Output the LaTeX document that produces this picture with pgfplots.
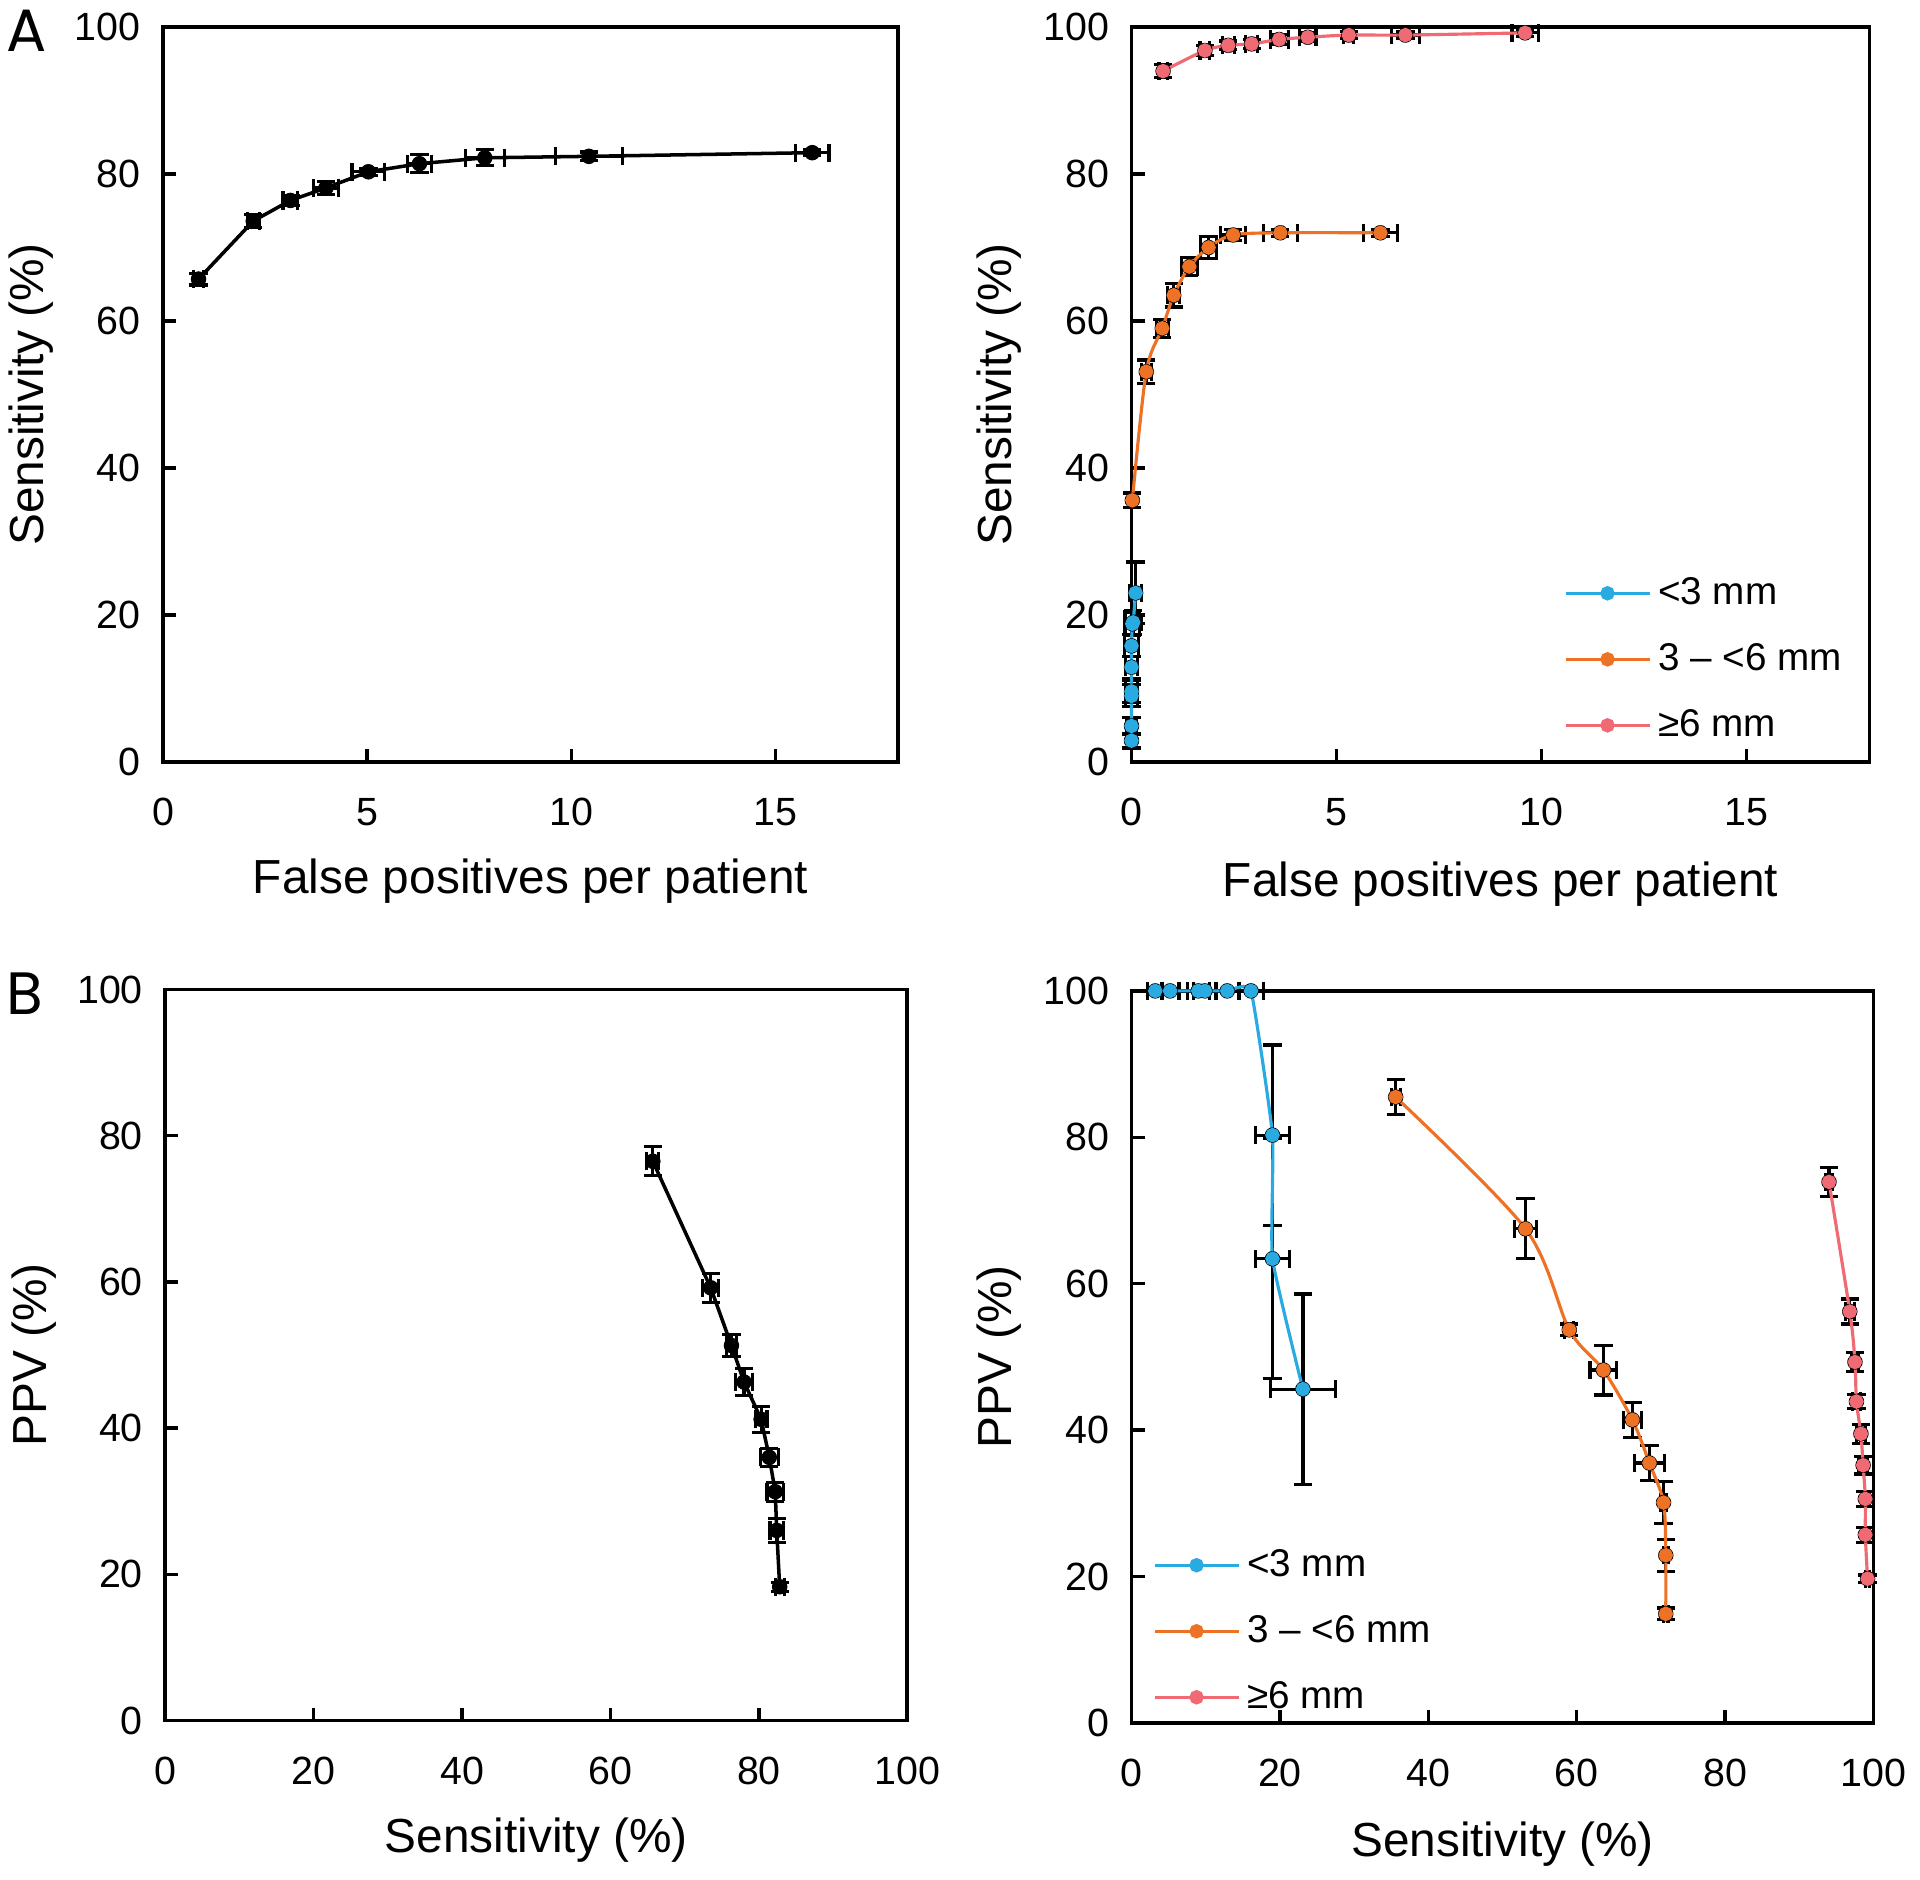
\documentclass[border=0pt]{standalone}
\usepackage{pgfplots}
\pgfplotsset{compat=1.18}
\usepackage{pgfplotstable}
\usepackage{fontspec}
\setmainfont{Liberation Sans}
\newfontfamily\panelfont{Poppins}
\definecolor{cblue}{RGB}{41,171,226}
\definecolor{corange}{RGB}{238,114,38}
\definecolor{cpink}{RGB}{240,106,116}

% Panel A left: FP per patient vs sensitivity
\pgfplotstableread{
x y ex ey
0.87 65.7 0.12 0.8
2.21 73.6 0.15 0.9
3.12 76.4 0.18 0.7
3.99 78.1 0.30 0.9
5.03 80.3 0.40 0.5
6.28 81.4 0.30 1.2
7.88 82.2 0.48 1.1
10.43 82.4 0.82 0.6
15.90 82.9 0.41 0.4
}\tAl
% Panel A right
\pgfplotstableread{
x y ex ey
0.00 2.9 0.10 1.0
0.00 4.9 0.12 1.2
0.00 9.0 0.15 1.5
0.00 9.6 0.15 1.5
0.00 12.9 0.15 1.5
0.00 15.8 0.18 1.5
0.02 18.8 0.18 1.6
0.04 19.0 0.20 1.6
0.10 23.0 0.15 4.2
}\tArb
\pgfplotstableread{
x y ex ey
0.02 35.6 0.05 1.0
0.36 53.1 0.12 1.6
0.75 59.0 0.15 1.2
1.03 63.5 0.15 1.6
1.41 67.4 0.20 1.2
1.88 70.0 0.20 1.5
2.48 71.7 0.30 0.8
3.63 72.0 0.42 0.5
6.07 72.0 0.41 0.5
}\tAro
\pgfplotstableread{
x y ex ey
0.77 94.0 0.10 0.9
1.79 96.8 0.12 0.7
2.36 97.5 0.15 0.6
2.93 97.7 0.15 0.6
3.60 98.3 0.22 0.7
4.30 98.6 0.20 0.6
5.30 98.9 0.12 0.5
6.68 98.9 0.34 0.5
9.60 99.2 0.32 0.5
}\tArp
% Panel B left: sensitivity vs PPV
\pgfplotstableread{
x y ex ey
65.7 76.5 0.8 2.0
73.5 59.2 1.1 2.0
76.3 51.3 0.7 1.5
78.0 46.3 1.1 1.8
80.3 41.2 0.8 1.8
81.4 36.0 1.2 1.2
82.2 31.3 1.1 1.3
82.4 26.0 0.9 1.6
82.8 18.3 0.6 0.6
}\tBl
% Panel B right
\pgfplotstableread{
x y ex ey
3.2 100 1.0 0
5.2 100 1.2 0
9.0 100 1.5 0
9.9 100 1.5 0
12.9 100 1.6 0
16.1 100 1.7 0
19.0 80.3 2.3 12.3
19.0 63.4 2.3 16.4
23.1 45.6 4.4 13.0
}\tBrb
\pgfplotstableread{
x y ex ey
35.6 85.5 0.6 2.4
53.1 67.5 1.5 4.1
59.0 53.7 0.6 0.8
63.6 48.2 1.8 3.4
67.5 41.4 1.2 2.4
69.8 35.5 2.0 2.4
71.7 30.1 0.4 2.9
72.0 22.9 0.3 2.2
72.0 14.9 0.3 0.8
}\tBro
\pgfplotstableread{
x y ex ey
94.0 73.9 0.5 2.0
96.8 56.2 0.6 1.7
97.5 49.3 0.5 1.3
97.7 43.9 0.5 1.0
98.3 39.5 0.6 1.3
98.6 35.2 0.6 1.2
98.9 30.6 0.5 1.0
98.9 25.7 0.4 1.0
99.2 19.7 0.3 0.5
}\tBrp

\pgfplotsset{
 myaxis/.style={
  scale only axis, clip=false,
  axis line style={line width=1.1pt},
  tick align=inside, tick pos=left,
  major tick length=1.3mm,
  every tick/.style={black, line width=1pt},
  ymin=0, ymax=100, ytick={0,20,...,100},
  /pgf/number format/assume math mode=true,
  ticklabel style={font=\fontsize{11.2}{13}\selectfont},
  xticklabel style={yshift=-2.4mm},
  yticklabel style={xshift=-1mm},
  label style={font=\fontsize{13.6}{16}\selectfont},
 },
 ebar/.style={only marks, mark=none, forget plot,
  error bars/.cd, x dir=both, x explicit, y dir=both, y explicit,
  error bar style={black, line width=0.9pt},
  error mark options={rotate=90, black, line width=0.9pt, mark size=2.6pt}},
 cser/.style={color=#1, line width=0.9pt, smooth, mark=*, mark size=1.6pt, mark options={fill=#1, draw=#1}},
 mylegend/.style={legend style={draw=none, fill=none, inner sep=0pt, row sep=1.97mm,
   font=\fontsize{11}{13}\selectfont, at={#1}, anchor=north west,
   /tikz/every even column/.append style={column sep=0.8mm}},
   legend cell align=left,
   legend image code/.code={\draw[mark repeat=2, mark phase=2] plot coordinates {(0cm,0cm) (0.42cm,0cm) (0.84cm,0cm)};}},
}

\begin{document}
\begin{tikzpicture}
\useasboundingbox (0,0) rectangle (19.2cm,18.79cm);

% ---------- A left ----------
\begin{axis}[myaxis, at={(1.63cm,11.17cm)}, anchor=south west,
  width=7.35cm, height=7.35cm, xmin=0, xmax=18, xtick={0,5,10,15},
  xlabel={False positives per patient}, ylabel={Sensitivity (\%)},
  xlabel style={at={(axis description cs:0.5,-0.162)}, anchor=center},
  ylabel style={at={(axis description cs:-0.18,0.5)}, anchor=center}]
\addplot[ebar] table[x=x, y=y, x error=ex, y error=ey] {\tAl};
\addplot[black, line width=1pt, mark=*, mark size=1.6pt] table[x=x, y=y] {\tAl};
\end{axis}

% ---------- A right ----------
\begin{axis}[myaxis, at={(11.315cm,11.17cm)}, anchor=south west,
  width=7.38cm, height=7.35cm, xmin=0, xmax=18, xtick={0,5,10,15},
  xlabel={False positives per patient}, ylabel={Sensitivity (\%)},
  xlabel style={at={(axis description cs:0.5,-0.166)}, anchor=center},
  ylabel style={at={(axis description cs:-0.18,0.5)}, anchor=center},
  mylegend={(axis description cs:0.585,0.262)}]
\addplot[ebar] table[x=x, y=y, x error=ex, y error=ey] {\tArb};
\addplot[ebar] table[x=x, y=y, x error=ex, y error=ey] {\tAro};
\addplot[ebar] table[x=x, y=y, x error=ex, y error=ey] {\tArp};
\addplot[cser=cblue] table[x=x, y=y] {\tArb};
\addlegendentry{<3 mm}
\addplot[cser=corange] table[x=x, y=y] {\tAro};
\addlegendentry{3 – <6 mm}
\addplot[cser=cpink] table[x=x, y=y] {\tArp};
\addlegendentry{≥6 mm}
\end{axis}

% ---------- B left ----------
\begin{axis}[myaxis, at={(1.653cm,1.585cm)}, anchor=south west,
  width=7.42cm, height=7.31cm, xmin=0, xmax=100, xtick={0,20,...,100},
  xlabel={Sensitivity (\%)}, ylabel={PPV (\%)},
  xlabel style={at={(axis description cs:0.5,-0.164)}, anchor=center},
  ylabel style={at={(axis description cs:-0.177,0.5)}, anchor=center}]
\addplot[ebar] table[x=x, y=y, x error=ex, y error=ey] {\tBl};
\addplot[black, line width=1pt, mark=*, mark size=1.6pt] table[x=x, y=y] {\tBl};
\end{axis}

% ---------- B right ----------
\begin{axis}[myaxis, at={(11.315cm,1.561cm)}, anchor=south west,
  width=7.42cm, height=7.32cm, xmin=0, xmax=100, xtick={0,20,...,100},
  xlabel={Sensitivity (\%)}, ylabel={PPV (\%)},
  xlabel style={at={(axis description cs:0.5,-0.166)}, anchor=center},
  ylabel style={at={(axis description cs:-0.179,0.5)}, anchor=center},
  mylegend={(axis description cs:0.028,0.248)}]
\addplot[ebar] table[x=x, y=y, x error=ex, y error=ey] {\tBrb};
\addplot[ebar] table[x=x, y=y, x error=ex, y error=ey] {\tBro};
\addplot[ebar] table[x=x, y=y, x error=ex, y error=ey] {\tBrp};
\addplot[cser=cblue, tension=0.25] table[x=x, y=y] {\tBrb};
\addlegendentry{<3 mm}
\addplot[cser=corange] table[x=x, y=y] {\tBro};
\addlegendentry{3 – <6 mm}
\addplot[cser=cpink] table[x=x, y=y] {\tBrp};
\addlegendentry{≥6 mm}
\end{axis}

\node[font=\panelfont\fontsize{17}{18}\selectfont, anchor=center] at (0.27cm,18.48cm) {A};
\node[font=\panelfont\fontsize{17}{18}\selectfont, anchor=center] at (0.245cm,8.85cm) {B};
\end{tikzpicture}
\end{document}
